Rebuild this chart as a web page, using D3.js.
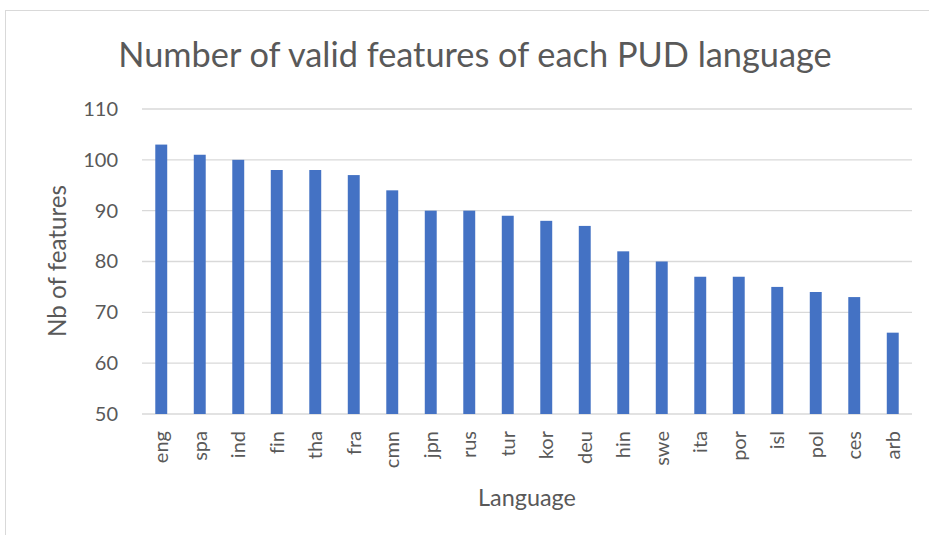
<!DOCTYPE html>
<html lang="en">
<head>
  <meta charset="UTF-8">
  <title>PUD features</title>
  <script src="https://cdn.jsdelivr.net/npm/d3@7"></script>
  <style>
    body { margin: 0; background: #fff; }
    text { font-family: Lato, "Open Sans", sans-serif; fill: #595959; font-variant-ligatures: none; }
  </style>
</head>
<body>
  <script>
    const languages = ["eng", "spa", "ind", "fin", "tha", "fra", "cmn", "jpn", "rus", "tur",
                       "kor", "deu", "hin", "swe", "ita", "por", "isl", "pol", "ces", "arb"];
    const nbFeatures = [103, 101, 100, 98, 98, 97, 94, 90, 90, 89,
                        88, 87, 82, 80, 77, 77, 75, 74, 73, 66];
    const yTicks = [50, 60, 70, 80, 90, 100, 110];

    const width = 929, height = 535;
    const margin = { left: 142, right: 17, top: 109, bottom: 121 };

    const svg = d3.select("body").append("svg")
      .attr("width", width)
      .attr("height", height);

    // scale a text's font size so that it spans the wanted width
    function fitText(sel, size, target) {
      sel.attr("font-size", size + "px");
      const w = sel.node().getComputedTextLength();
      sel.attr("font-size", (size * target / w).toFixed(2) + "px");
    }

    // chart frame
    svg.append("rect")
      .attr("x", 5.5).attr("y", 10.5)
      .attr("width", width + 10).attr("height", height + 10)
      .attr("fill", "none")
      .attr("stroke", "#d9d9d9");

    const x = d3.scaleBand()
      .domain(languages)
      .range([margin.left, width - margin.right])
      .paddingInner(0.69)
      .paddingOuter(0.345);

    const y = d3.scaleLinear()
      .domain([50, 110])
      .range([height - margin.bottom, margin.top]);

    // gridlines
    svg.append("g")
      .selectAll("line")
      .data(yTicks)
      .enter()
      .append("line")
      .attr("x1", margin.left)
      .attr("x2", width - margin.right)
      .attr("y1", d => y(d))
      .attr("y2", d => y(d))
      .attr("stroke", "#d9d9d9")
      .attr("stroke-width", 1.3);

    // y axis labels
    const yAxis = d3.axisLeft(y).tickValues(yTicks).tickSize(0).tickPadding(24);
    const gy = svg.append("g")
      .attr("transform", `translate(${margin.left}, 0)`)
      .call(yAxis);
    gy.select(".domain").remove();
    gy.selectAll("text")
      .attr("font-size", "20px")
      .attr("fill", "#595959")
      .attr("font-family", "Lato, sans-serif");

    // bars
    svg.append("g")
      .selectAll("rect")
      .data(nbFeatures)
      .enter()
      .append("rect")
      .attr("x", (d, i) => x(languages[i]))
      .attr("y", d => y(d))
      .attr("width", x.bandwidth())
      .attr("height", d => y(50) - y(d))
      .attr("fill", "#4472c4");

    // x axis labels (rotated)
    const xAxis = d3.axisBottom(x).tickSize(0);
    const gx = svg.append("g")
      .attr("transform", `translate(0, ${y(50)})`)
      .call(xAxis);
    gx.select(".domain").remove();
    gx.selectAll("text")
      .attr("font-size", "20px")
      .attr("fill", "#595959")
      .attr("font-family", "Lato, sans-serif")
      .attr("transform", "rotate(-90)")
      .attr("text-anchor", "end")
      .attr("x", -17)
      .attr("y", 0)
      .attr("dy", "0.35em");

    // title
    const title = svg.append("text")
      .attr("x", 475)
      .attr("y", 67)
      .attr("text-anchor", "middle")
      .text("Number of valid features of each PUD language");
    fitText(title, 30, 714);

    // axis titles
    const xTitle = svg.append("text")
      .attr("x", 527)
      .attr("y", 506)
      .attr("text-anchor", "middle")
      .text("Language");
    fitText(xTitle, 20, 98);

    const yTitle = svg.append("text")
      .attr("transform", "translate(66, 261) rotate(-90)")
      .attr("text-anchor", "middle")
      .text("Nb of features");
    fitText(yTitle, 20, 152);
  </script>
</body>
</html>
